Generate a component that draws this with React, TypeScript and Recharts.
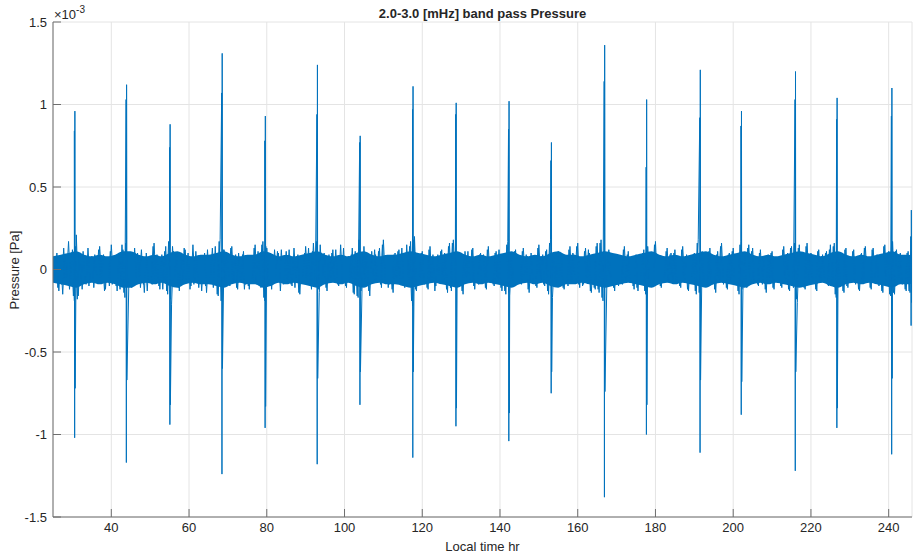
import React from "react";
import { ComposedChart, Line, Area, XAxis, YAxis, CartesianGrid } from "recharts";

// ── values (pressure in units of 10^-3 Pa, time in hours) ─────

const X_TICKS = [40, 60, 80, 100, 120, 140, 160, 180, 200, 220, 240];
const Y_TICKS = [-1.5, -1, -0.5, 0, 0.5, 1, 1.5];

// background band-pass noise in 10^-5 Pa: noiseA every 0.5 hr from 25 hr,
// noiseB on the quarter hours in between
const NOISE_START = 25;
const NOISE_STEP = 0.5;
const noiseA = [
  4, -7, 10, -13, 6, -15, 9, -5, 17, -8, 12, -19, 21, -16, 7, -12, 5, -9, 13, -6,
  8, -11, 5, -7, 14, -4, 9, -12, 6, -10, 15, -5, 7, -13, 9, -6, 12, -17, 18, -10,
  6, -9, 13, -5, 8, -11, 4, -14, 10, -6, 7, -9, 16, -8, 5, -12, 9, -6, 14, -15,
  19, -21, 11, -7, 5, -13, 9, -6, 12, -4, 8, -10, 15, -7, 6, -11, 4, -8, 10, -14,
  7, -5, 13, -9, 6, -16, 18, -20, 12, -8, 5, -10, 14, -6, 9, -12, 7, -4, 11, -9,
  5, -12, 8, -6, 15, -9, 4, -11, 17, -19, 13, -7, 6, -9, 12, -5, 10, -13, 8, -6,
  11, -7, 4, -10, 13, -5, 9, -15, 6, -8, 14, -4, 7, -12, 16, -9, 19, -14, 8, -6,
  6, -13, 9, -5, 12, -8, 5, -10, 15, -7, 4, -11, 8, -6, 13, -15, 10, -17, 20, -12,
  14, -8, 5, -16, 11, -6, 9, -4, 13, -11, 18, -7, 6, -9, 4, -14, 10, -5, 12, -8,
  7, -11, 15, -6, 17, -22, 20, -13, 8, -5, 11, -9, 4, -12, 14, -7, 6, -10, 9, -5,
  12, -6, 9, -14, 16, -13, 18, -10, 7, -9, 5, -15, 11, -4, 8, -7, 13, -12, 6, -9,
  10, -5, 7, -12, 14, -8, 4, -10, 11, -6, 8, -13, 5, -15, 17, -16, 9, -7, 12, -4,
  6, -9, 13, -5, 8, -14, 10, -7, 4, -11, 15, -6, 9, -10, 12, -15, 18, -17, 7, -8,
  11, -4, 8, -12, 5, -10, 14, -7, 9, -6, 16, -11, 6, -9, 13, -5, 10, -14, 7, -12,
  16, -14, 18, -19, 9, -7, 12, -5, 6, -13, 8, -10, 4, -9, 14, -6, 11, -8, 5, -12,
  9, -13, 7, -5, 12, -15, 14, -8, 6, -10, 17, -9, 5, -11, 8, -4, 13, -7, 10, -6,
  12, -8, 5, -11, 14, -6, 9, -13, 7, -4, 10, -15, 18, -16, 11, -7, 6, -10, 13, -9,
  8, -14, 11, -6, 16, -9, 5, -12, 10, -7, 13, -5, 8, -15, 17, -13, 9, -11, 15, -6,
  13, -7, 4, -10, 12, -9, 6, -14, 9, -5, 11, -12, 7, -8, 5, -11, 14, -6, 10, -13,
  14, -11, 18, -20, 15, -9, 7, -12, 16, -6, 10, -8, 5, -13, 12, -7, 9, -5, 11, -10,
  15, -9, 16, -17, 10, -6, 8, -14, 13, -11, 6, -5, 12, -9, 4, -13, 10, -7, 14, -6,
  7, -12, 13, -5, 9, -10, 6, -14, 15, -8, 11, -16, 17, -15, 12, -6, 10, -9, 5, -13,
  11, -14, 9,
];
const noiseB = [
  -5, 8, -11, 6, -9, 13, -7, 4, -12, 10, -16, 14, -18, 9, -6, 11, -8, 5, -10, 7,
  -6, 9, -4, 12, -8, 6, -13, 7, -5, 11, -9, 4, -10, 8, -12, 15, -14, 16, -9, 6,
  -11, 5, -7, 10, -4, 12, -9, 6, -13, 8, -5, 14, -7, 9, -10, 4, -12, 11, -13, 17,
  -18, 14, -6, 9, -11, 5, -8, 13, -6, 10, -12, 4, -9, 11, -5, 8, -13, 6, -10, 12,
  -8, 6, -11, 14, -15, 17, -19, 12, -7, 9, -4, 13, -8, 5, -11, 10, -6, 9, -12, 7,
  -10, 4, -7, 13, -8, 11, -5, 15, -17, 14, -9, 6, -12, 8, -4, 11, -7, 12, -9, 5,
  -6, 12, -9, 5, -11, 8, -14, 7, -4, 10, -6, 13, -9, 11, -8, 17, -12, 15, -7, 10,
  -11, 7, -4, 10, -6, 12, -9, 5, -8, 13, -10, 6, -5, 9, -14, 11, -16, 18, -13, 9,
  -7, 10, -13, 6, -5, 12, -8, 11, -9, 15, -6, 8, -11, 5, -12, 9, -4, 11, -7, 13,
  -10, 6, -8, 14, -19, 18, -12, 7, -4, 10, -8, 5, -11, 12, -6, 9, -13, 7, -5, 11,
  -8, 10, -12, 14, -11, 16, -9, 6, -7, 4, -13, 9, -5, 11, -6, 12, -10, 7, -8, 9,
  -6, 9, -11, 12, -7, 5, -9, 10, -4, 12, -11, 7, -13, 15, -14, 10, -6, 11, -5, 8,
  -7, 11, -4, 9, -12, 8, -6, 5, -10, 13, -5, 8, -9, 11, -13, 16, -15, 9, -6, 10,
  -5, 9, -11, 6, -8, 12, -6, 10, -4, 14, -9, 7, -10, 11, -4, 12, -13, 8, -11, 14,
  -12, 16, -17, 11, -6, 10, -4, 8, -11, 7, -9, 5, -8, 12, -5, 9, -7, 6, -10, 8,
  -11, 6, -4, 10, -13, 12, -7, 5, -9, 15, -8, 6, -10, 7, -5, 11, -6, 9, -4, 10,
  -7, 6, -10, 12, -5, 8, -12, 6, -5, 9, -13, 16, -14, 10, -6, 5, -9, 11, -8, 7,
  -12, 9, -5, 14, -8, 6, -11, 9, -6, 11, -4, 7, -13, 15, -12, 8, -10, 13, -5, 11,
  -6, 5, -9, 10, -8, 7, -12, 8, -4, 10, -11, 6, -7, 4, -10, 12, -5, 9, -12, 13,
  -10, 16, -18, 13, -8, 6, -11, 14, -5, 9, -7, 4, -12, 11, -6, 8, -4, 10, -9, 12,
  -8, 14, -15, 9, -5, 7, -13, 12, -10, 5, -4, 11, -8, 5, -12, 9, -6, 13, -5, 6,
  -11, 12, -4, 8, -9, 5, -13, 14, -7, 10, -15, 16, -14, 11, -5, 9, -8, 4, -12, 10,
  -13, 8,
];

// dense core of the noise band (half-width, 10^-5 Pa), every 2 hr from 25 hr
const CORE_STEP = 2;
const coreAmp = [
  8, 9, 10, 11, 9, 8, 9, 8, 9, 11,
  11, 9, 8, 9, 8, 10, 11, 9, 8, 9,
  9, 10, 11, 9, 8, 9, 9, 11, 10, 8,
  9, 8, 9, 10, 11, 9, 8, 9, 8, 10,
  11, 9, 8, 9, 9, 10, 11, 10, 9, 8,
  9, 10, 11, 9, 8, 9, 8, 9, 10, 11,
  9, 8, 9, 8, 10, 11, 9, 9, 8, 9,
  10, 11, 10, 9, 8, 9, 10, 11, 9, 8,
  9, 8, 9, 10, 11, 9, 8, 9, 10, 11,
  9, 8, 9, 8, 9, 10, 11, 10, 9, 8,
  10, 11, 9, 8, 9, 8, 9, 10, 11, 9,
  9, 8,
];

// the daily bursts
const spikeTimes = [30.6, 43.9, 55.1, 68.5, 79.6, 93.0, 104.0, 117.6, 128.7, 142.3, 153.2, 166.9, 177.7, 191.5, 202.1, 216.0, 226.7, 240.8, 245.8];
const spikePeaks = [0.96, 1.12, 0.88, 1.31, 0.93, 1.24, 0.81, 1.11, 1.01, 1.02, 0.77, 1.36, 1.03, 1.21, 0.96, 1.2, 1.04, 1.1, 0.36];
const spikeTroughs = [-1.02, -1.17, -0.94, -1.24, -0.96, -1.18, -0.82, -1.14, -0.95, -1.04, -0.75, -1.38, -1.0, -1.11, -0.88, -1.22, -0.96, -1.12, -0.34];
const innerPeaks = [0.84, 1.03, 0.74, 1.07, 0.78, 0.94, 0.77, 0.97, 0.94, 0.85, 0.66, 1.14, 0.62, 0.92, 0.87, 1.03, 0.91, 0.93, 0.2];
const innerTroughs = [-0.72, -0.67, -0.82, -0.6, -0.83, -0.66, -0.62, -0.62, -0.84, -0.87, -0.62, -0.74, -0.82, -0.67, -0.68, -0.62, -0.84, -0.66, -0.2];

// ── build the series ──────────────────────────────────────────

const seriesA = (() => {
  const pts = noiseA.map((v, i) => ({ t: NOISE_START + i * NOISE_STEP, p: v / 100 }));
  spikeTimes.forEach((t, i) => {
    pts.push({ t: t - 0.1, p: innerPeaks[i] });
    pts.push({ t: t - 0.03, p: spikeTroughs[i] });
    pts.push({ t: t + 0.03, p: spikePeaks[i] });
    pts.push({ t: t + 0.1, p: innerTroughs[i] });
  });
  return pts.filter((d) => d.t <= 246).sort((a, b) => a.t - b.t);
})();

const seriesB = noiseB.map((v, i) => ({ t: NOISE_START + NOISE_STEP / 2 + i * NOISE_STEP, p: v / 100 }));

const coreBand = coreAmp.map((v, i) => ({ t: NOISE_START + i * CORE_STEP, band: [-v / 100, v / 100] }));

const LINE_BLUE = "#0072bd";
const AXIS = "#6e6e6e";
const TEXT = "#262626";
const FONT = "'Liberation Sans', Arial, Helvetica, sans-serif";

const tickStyle = { fontSize: 13, fill: TEXT, fontFamily: FONT };

export default function App() {
  return (
    <div style={{ position: "relative", width: 915, height: 555, fontFamily: FONT, color: TEXT, background: "#fff" }}>
      <style>{`body{margin:0}`}</style>
      <ComposedChart width={915} height={555} margin={{ top: 22, right: 3, bottom: 8, left: 0 }}>
        <CartesianGrid stroke="#e4e4e4" strokeWidth={1} />
        <XAxis
          dataKey="t"
          type="number"
          domain={[25, 246]}
          ticks={X_TICKS}
          allowDataOverflow
          height={30}
          tickSize={-8}
          tickMargin={14}
          stroke={AXIS}
          tick={tickStyle}
        />
        <XAxis
          xAxisId="top"
          dataKey="t"
          type="number"
          orientation="top"
          domain={[25, 246]}
          ticks={X_TICKS}
          allowDataOverflow
          height={0}
          tickSize={-8}
          tick={false}
          stroke={AXIS}
        />
        <YAxis
          type="number"
          domain={[-1.5, 1.5]}
          ticks={Y_TICKS}
          allowDataOverflow
          width={53}
          tickSize={-8}
          tickMargin={14}
          stroke={AXIS}
          tick={tickStyle}
        />
        <YAxis
          yAxisId="right"
          orientation="right"
          type="number"
          domain={[-1.5, 1.5]}
          ticks={Y_TICKS}
          width={0}
          tickSize={-8}
          tick={false}
          stroke={AXIS}
        />
        <Area
          data={coreBand}
          type="monotone"
          dataKey="band"
          stroke="none"
          fill={LINE_BLUE}
          fillOpacity={1}
          isAnimationActive={false}
        />
        <Line
          data={seriesB}
          type="linear"
          dataKey="p"
          stroke={LINE_BLUE}
          strokeWidth={1}
          dot={false}
          activeDot={false}
          isAnimationActive={false}
        />
        <Line
          data={seriesA}
          type="linear"
          dataKey="p"
          stroke={LINE_BLUE}
          strokeWidth={1}
          dot={false}
          activeDot={false}
          isAnimationActive={false}
        />
      </ComposedChart>

      <div style={{ position: "absolute", left: 53, width: 859, top: 6, textAlign: "center", fontSize: 13, fontWeight: "bold" }}>
        2.0-3.0 [mHz] band pass Pressure
      </div>
      <div style={{ position: "absolute", left: 54, top: 4, fontSize: 13 }}>
        ×10<sup style={{ fontSize: 10, verticalAlign: "6px" }}>-3</sup>
      </div>
      <div style={{ position: "absolute", left: 53, width: 859, top: 539, textAlign: "center", fontSize: 13 }}>
        Local time hr
      </div>
      <div
        style={{
          position: "absolute",
          left: 14,
          top: 270,
          fontSize: 13,
          whiteSpace: "nowrap",
          transform: "translate(-50%, -50%) rotate(-90deg)",
        }}
      >
        Pressure [Pa]
      </div>
    </div>
  );
}
